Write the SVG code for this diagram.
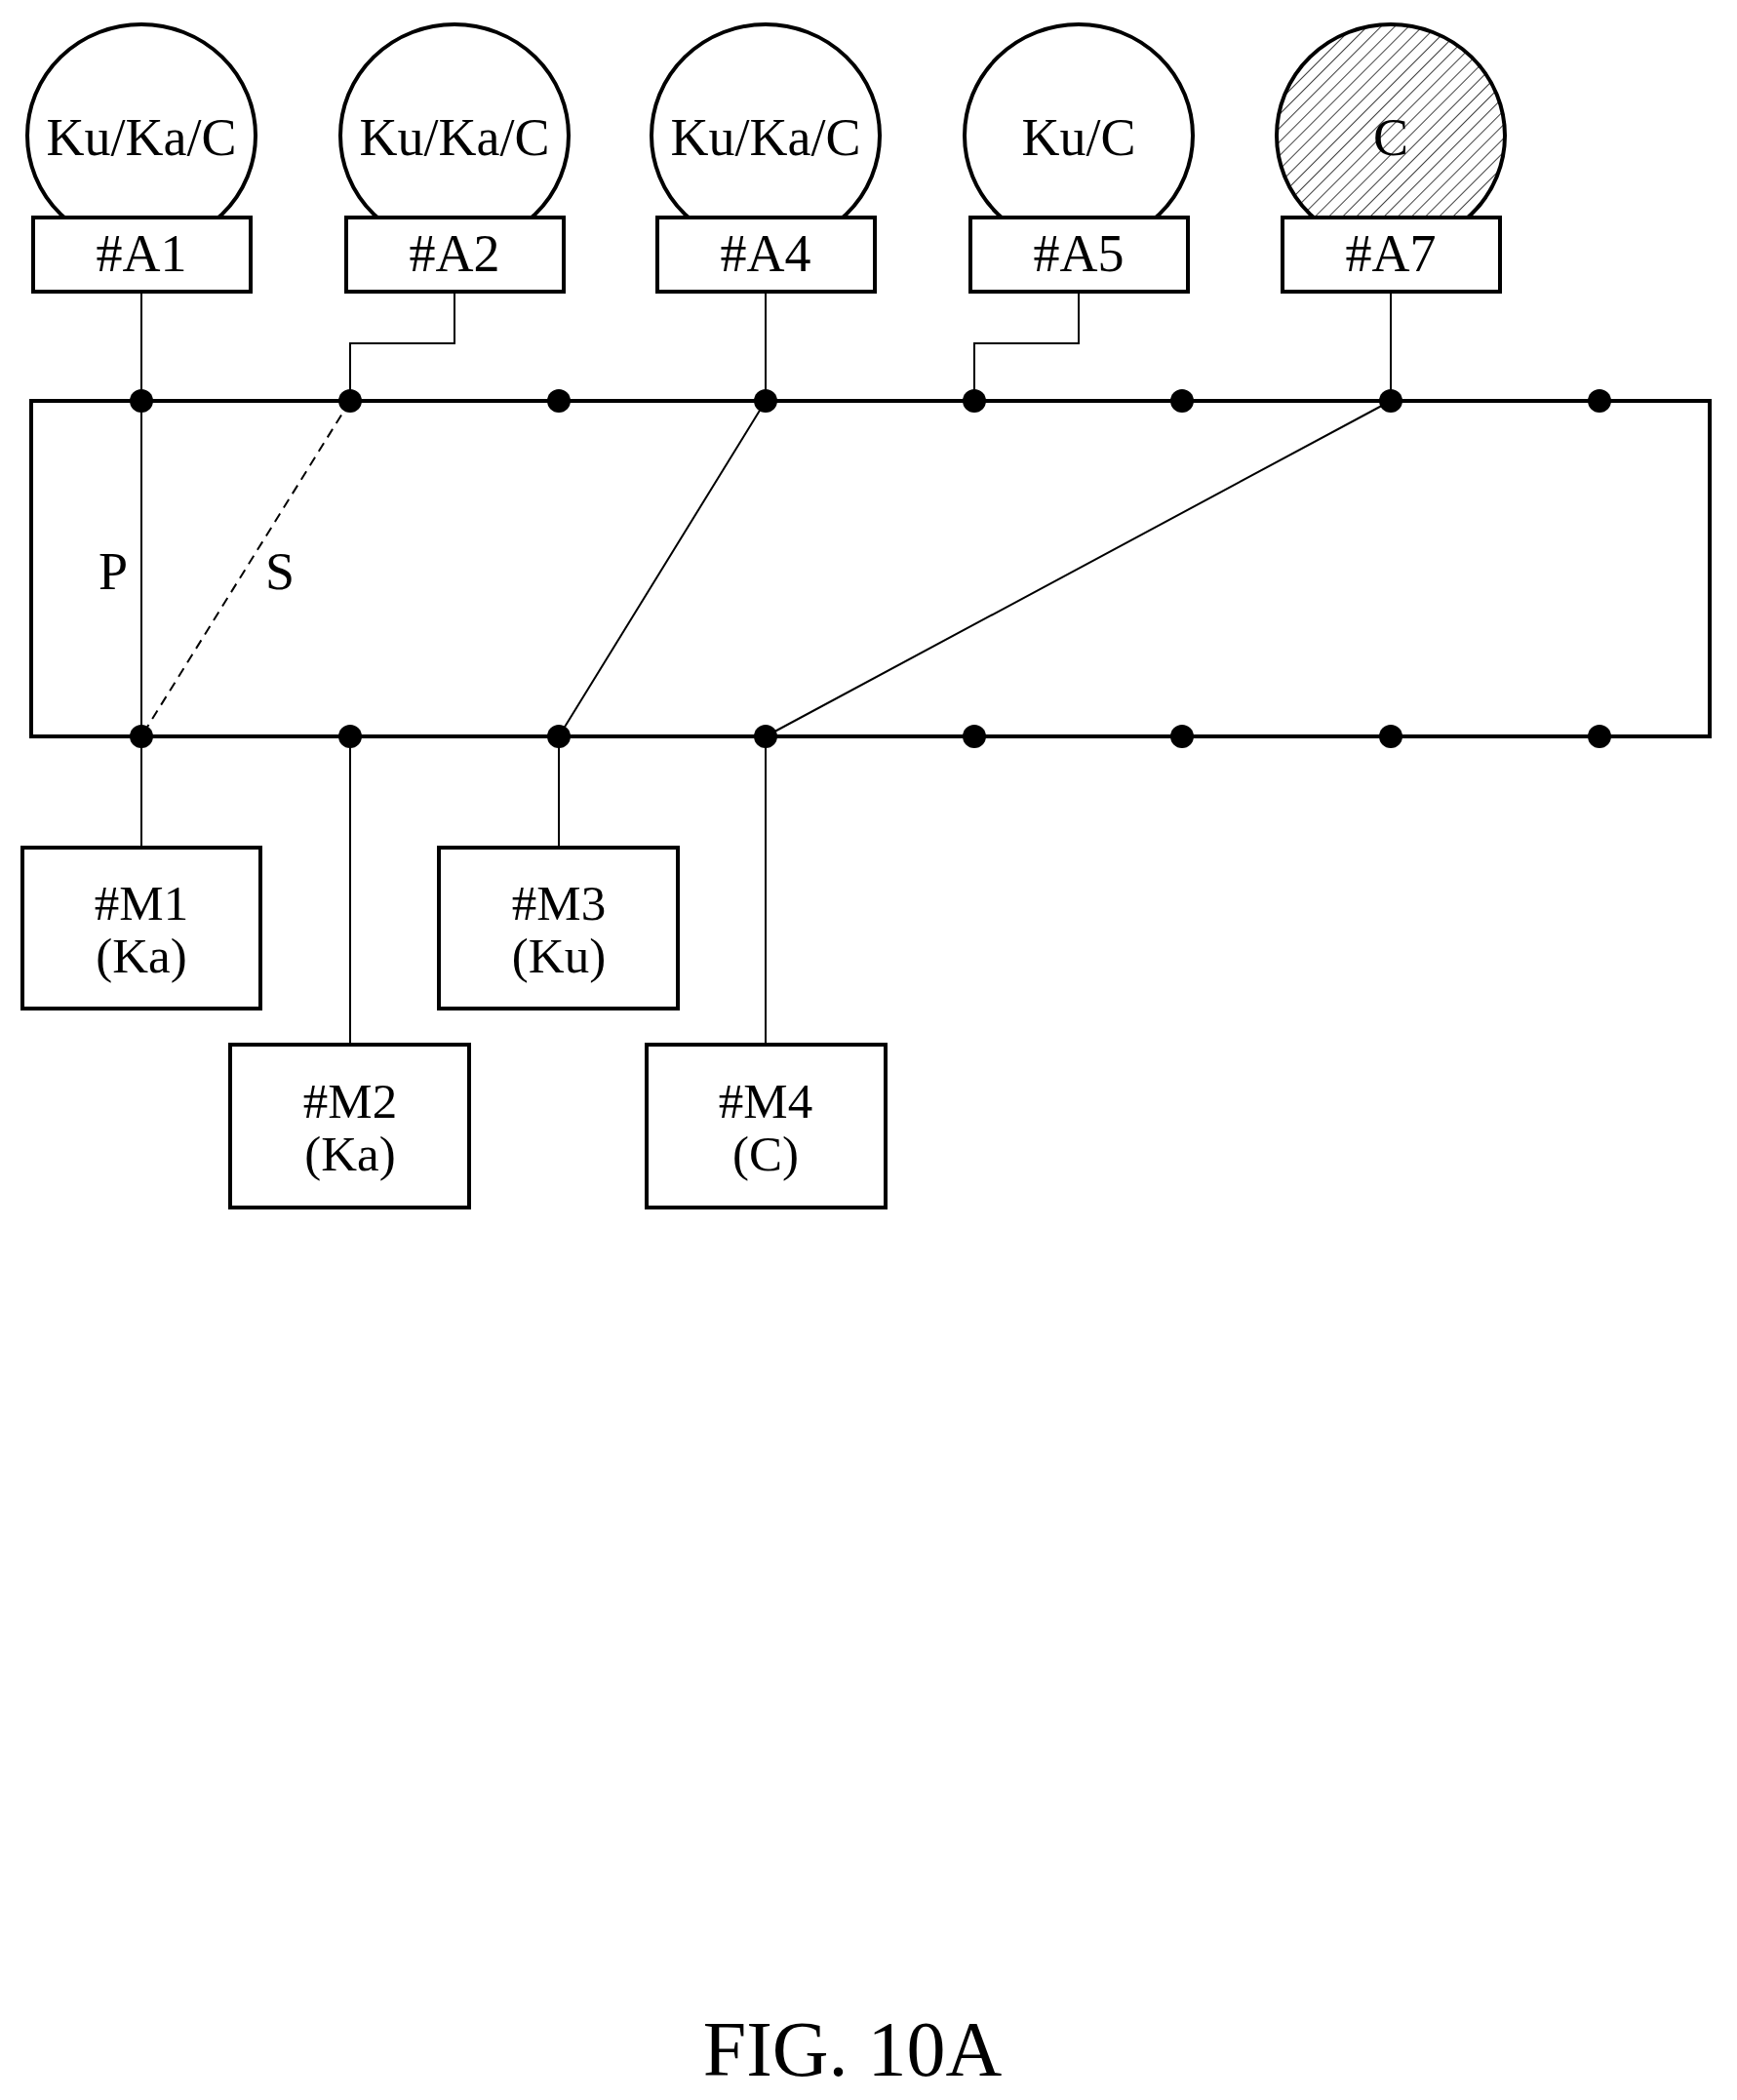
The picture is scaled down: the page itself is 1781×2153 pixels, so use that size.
<svg xmlns="http://www.w3.org/2000/svg" width="1781" height="2153" viewBox="0 0 1781 2153">
<style>
text{font-family:"Liberation Serif",serif;font-size:54px;text-anchor:middle;fill:#000}
.m{font-size:51px}
.b{fill:#fff;stroke:#000;stroke-width:4}
.l{fill:none;stroke:#000;stroke-width:2}
.d{fill:#000}
</style>
<defs>
<pattern id="h" width="10" height="10" patternUnits="userSpaceOnUse" patternTransform="rotate(45)">
<rect width="10" height="10" fill="#fff"/><line x1="0" y1="0" x2="0" y2="10" stroke="#000" stroke-width="1.5"/>
</pattern>
</defs>
<rect width="1781" height="2153" fill="#fff"/>
<g id="bus"><rect x="32" y="411" width="1721" height="344" fill="none" stroke="#000" stroke-width="4"/></g>
<g id="connectors">
<path class="l" d="M145 299V411M466 299V352H359V411M785 299V411M1106 299V352H999V411"/>
<path class="l" d="M1426 299V411"/>
<path class="l" d="M145 411V755"/>
<path class="l" d="M359 411L145 755" stroke-dasharray="10,7"/>
<path class="l" d="M785 411L573 755M1426 411L785 755"/>
<path class="l" d="M145 755V869M359 755V1071M573 755V869M785 755V1071"/>
</g>
<g id="dots">
<g class="d">
<circle cx="145" cy="411" r="12"/><circle cx="359" cy="411" r="12"/><circle cx="573" cy="411" r="12"/><circle cx="785" cy="411" r="12"/><circle cx="999" cy="411" r="12"/><circle cx="1212" cy="411" r="12"/><circle cx="1426" cy="411" r="12"/><circle cx="1640" cy="411" r="12"/>
<circle cx="145" cy="755" r="12"/><circle cx="359" cy="755" r="12"/><circle cx="573" cy="755" r="12"/><circle cx="785" cy="755" r="12"/><circle cx="999" cy="755" r="12"/><circle cx="1212" cy="755" r="12"/><circle cx="1426" cy="755" r="12"/><circle cx="1640" cy="755" r="12"/>
</g></g>
<text x="116" y="604">P</text><text x="287" y="604">S</text>
<g id="A1"><ellipse class="b" cx="145" cy="139" rx="117" ry="114"/><rect class="b" x="34" y="223" width="223" height="76"/><text x="145" y="159">Ku/Ka/C</text><text x="145" y="278">#A1</text></g>
<g id="A2"><ellipse class="b" cx="466" cy="139" rx="117" ry="114"/><rect class="b" x="355" y="223" width="223" height="76"/><text x="466" y="159">Ku/Ka/C</text><text x="466" y="278">#A2</text></g>
<g id="A4"><ellipse class="b" cx="785" cy="139" rx="117" ry="114"/><rect class="b" x="674" y="223" width="223" height="76"/><text x="785" y="159">Ku/Ka/C</text><text x="785" y="278">#A4</text></g>
<g id="A5"><ellipse class="b" cx="1106" cy="139" rx="117" ry="114"/><rect class="b" x="995" y="223" width="223" height="76"/><text x="1106" y="159">Ku/C</text><text x="1106" y="278">#A5</text></g>
<g id="A7"><ellipse class="b" cx="1426" cy="139" rx="117" ry="114" style="fill:url(#h)"/><rect class="b" x="1315" y="223" width="223" height="76"/><text x="1426" y="159">C</text><text x="1426" y="278">#A7</text></g>
<g id="M1"><rect class="b" x="23" y="869" width="244" height="165"/><text class="m" x="145" y="943">#M1</text><text class="m" x="145" y="997">(Ka)</text></g>
<g id="M2"><rect class="b" x="236" y="1071" width="245" height="167"/><text class="m" x="359" y="1146">#M2</text><text class="m" x="359" y="1200">(Ka)</text></g>
<g id="M3"><rect class="b" x="450" y="869" width="245" height="165"/><text class="m" x="573" y="943">#M3</text><text class="m" x="573" y="997">(Ku)</text></g>
<g id="M4"><rect class="b" x="663" y="1071" width="245" height="167"/><text class="m" x="785" y="1146">#M4</text><text class="m" x="785" y="1200">(C)</text></g>
<text x="874" y="2128" style="font-size:80px">FIG. 10A</text>
</svg>
